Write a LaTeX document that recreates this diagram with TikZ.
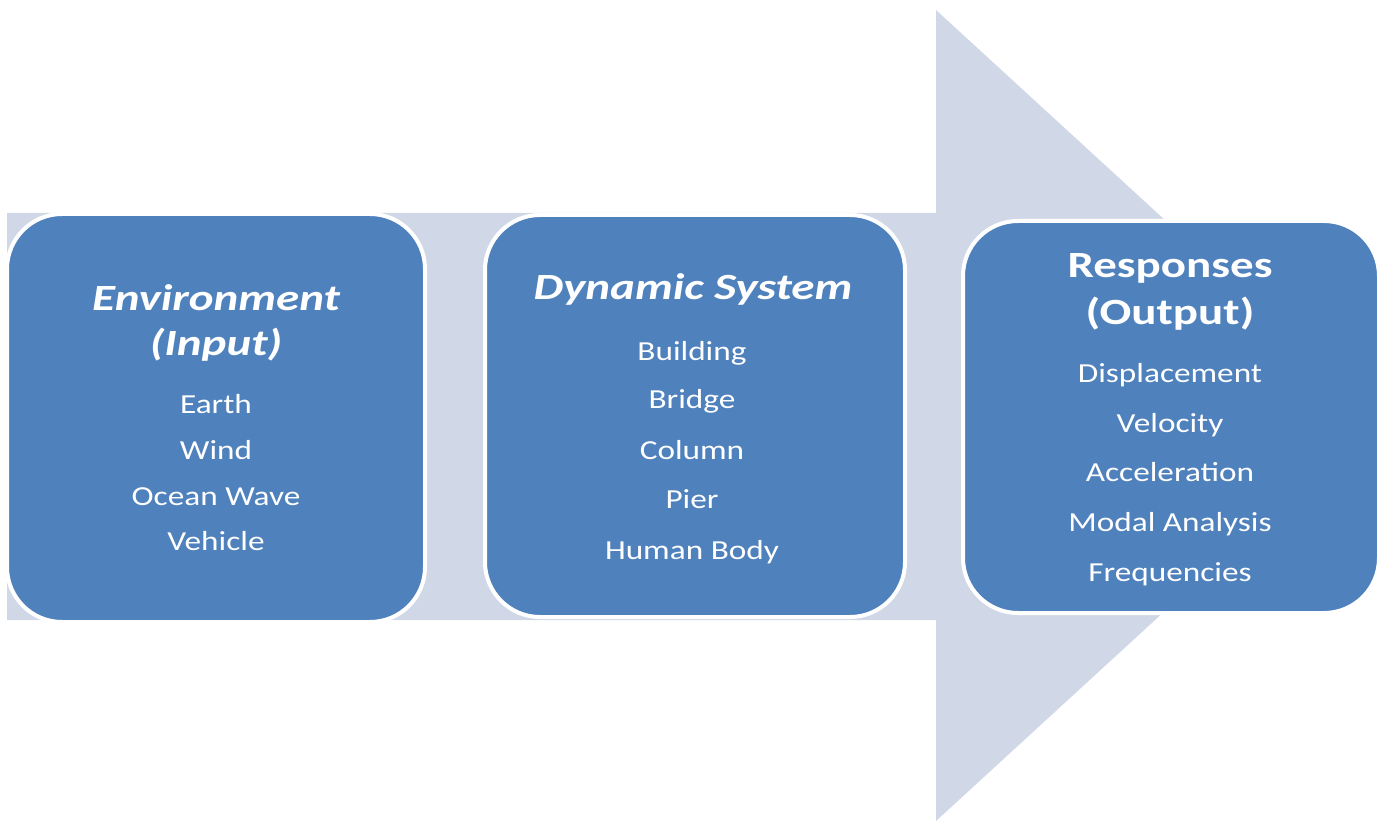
\documentclass[tikz,border=0pt]{standalone}
\usepackage{fontspec}
\setmainfont{Carlito}[FakeStretch=1.21]
\newfontfamily\headfont{Carlito}[FakeStretch=1.27]
\definecolor{boxblue}{HTML}{4F81BD}
\definecolor{arrowgray}{HTML}{D0D8E8}
\begin{document}
\begin{tikzpicture}[x=1pt,y=-1pt,
  card/.style={draw=white, line width=4pt, fill=boxblue, rounded corners=55pt,
               inner sep=0pt, minimum width=#1},
  heading/.style={anchor=base, text=white, font=\headfont\fontsize{37}{44}\selectfont\bfseries\itshape},
  headingup/.style={anchor=base, text=white, font=\headfont\fontsize{37}{44}\selectfont\bfseries},
  item/.style={anchor=base, text=white, font=\fontsize{27.5}{33}\selectfont}]
\useasboundingbox (0,0) rectangle (1377,821);
% broad background arrow
\fill[arrowgray] (7,213) -- (936,213) -- (936,10) -- (1378,415.5) -- (936,821)
  -- (936,620) -- (7,620) -- cycle;
% the three stage cards
\node[card=418pt, minimum height=408pt] (env) at (216,418) {};
\node[card=420pt, minimum height=402pt] (dyn) at (695,416) {};
\node[card=416pt, minimum height=392pt] (res) at (1171,417) {};
% environment (input)
\node[heading] (envt1) at (216,310) {Environment};
\node[heading] (envt2) at (216,355) {(Input)};
\node[item] (env1) at (216,413) {Earth};
\node[item] (env2) at (216,459) {Wind};
\node[item] (env3) at (216,505) {Ocean Wave};
\node[item] (env4) at (216,550) {Vehicle};
% dynamic system
\node[heading] (dynt) at (693,300) {Dynamic System};
\node[item] (dyn1) at (692,360) {Building};
\node[item] (dyn2) at (692,408) {Bridge};
\node[item] (dyn3) at (692,459) {Column};
\node[item] (dyn4) at (692,508) {Pier};
\node[item] (dyn5) at (692,559) {Human Body};
% responses (output)
\node[headingup] (rest1) at (1170,278) {Responses};
\node[headingup] (rest2) at (1170,324) {(Output)};
\node[item] (res1) at (1170,382) {Displacement};
\node[item] (res2) at (1170,432) {Velocity};
\node[item] (res3) at (1170,481) {Acceleration};
\node[item] (res4) at (1170,531) {Modal Analysis};
\node[item] (res5) at (1170,581) {Frequencies};
\end{tikzpicture}
\end{document}
